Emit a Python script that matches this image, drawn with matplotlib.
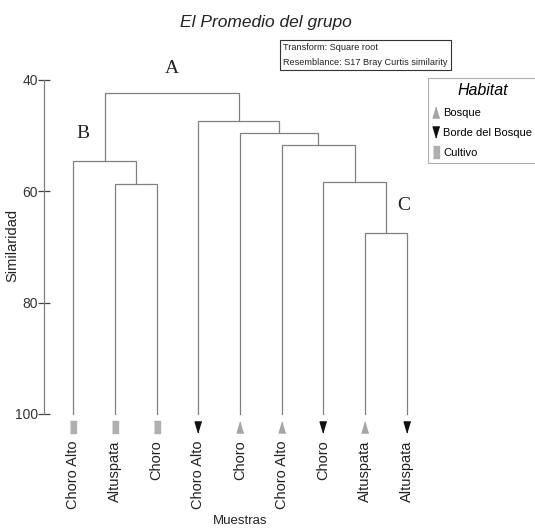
import matplotlib
matplotlib.use("Agg")
import numpy as np
import matplotlib.pyplot as plt
from matplotlib.lines import Line2D

# leaves (left to right) and their habitat
leaf_names = ["Choro Alto", "Altuspata", "Choro", "Choro Alto", "Choro",
              "Choro Alto", "Choro", "Altuspata", "Altuspata"]
leaf_habitat = ["Cultivo", "Cultivo", "Cultivo", "Borde del Bosque", "Bosque",
                "Bosque", "Borde del Bosque", "Bosque", "Borde del Bosque"]

# linkage: (child a, child b, similarity); new ids start at len(leaf_names)
merges = [
    (7, 8, 67.4),
    (6, 9, 58.3),
    (5, 10, 51.7),
    (4, 11, 49.5),
    (3, 12, 47.3),
    (1, 2, 58.7),
    (0, 14, 54.6),
    (15, 13, 42.4),
]

# group letters: (label, node id, x shift, y shift)
group_labels = [("A", 16, 0.0, -2.9), ("B", 15, -0.52, -3.5), ("C", 9, 0.42, -3.3)]

y_ticks = [40, 60, 80, 100]
habitat_order = ["Bosque", "Borde del Bosque", "Cultivo"]

tri_up = [(0, 1), (-0.6, -1), (0.6, -1)]
tri_down = [(0, -1), (-0.6, 1), (0.6, 1)]
rect = [(-0.5, -1), (0.5, -1), (0.5, 1), (-0.5, 1)]
habitat_style = {
    "Bosque": dict(marker=tri_up, color="#a6a6a6", ms=8),
    "Borde del Bosque": dict(marker=tri_down, color="#111111", ms=8),
    "Cultivo": dict(marker=rect, color="#b0b0b0", ms=8.6),
}

arial = ["Liberation Sans", "DejaVu Sans"]
serif = ["Liberation Serif", "DejaVu Serif"]
line_col = "#808080"

fig = plt.figure(figsize=(5.35, 5.31), dpi=100)
ax = fig.add_axes([44 / 535, 1 - 414 / 531, (448.3 - 44) / 535, (414 - 80) / 531])

n = len(leaf_names)
xs = {i: i + 1.0 for i in range(n)}
hs = {i: 100.0 for i in range(n)}
for k, (a, b, h) in enumerate(merges):
    node = n + k
    ax.plot([xs[a], xs[a], xs[b], xs[b]], [hs[a], h, h, hs[b]],
            color=line_col, lw=0.9, solid_joinstyle="miter", clip_on=False)
    xs[node] = (xs[a] + xs[b]) / 2
    hs[node] = h

# habitat markers and sample names below the leaves
for i in range(n):
    st = habitat_style[leaf_habitat[i]]
    ax.plot(xs[i], 102.4, marker=st["marker"], color=st["color"], ms=st["ms"],
            ls="none", clip_on=False)
    ax.text(xs[i], 104.7, leaf_names[i], rotation=90, ha="center", va="top",
            fontsize=10.5, family=arial, color="#222222")

for lab, node, dx, dy in group_labels:
    ax.text(xs[node] + dx, hs[node] + dy, lab, ha="center", va="bottom",
            fontsize=14, family=serif, color="#222222")

ax.set_xlim(1 - (73.3 - 44) / 41.67, 10)
ax.set_ylim(100, 40)
ax.set_yticks(y_ticks)
ax.set_xticks([])
for s in ["top", "right", "bottom"]:
    ax.spines[s].set_visible(False)
ax.spines["left"].set_color(line_col)
ax.spines["left"].set_linewidth(0.9)
ax.tick_params(axis="y", direction="inout", length=9, width=0.9, color="#444444",
               labelsize=10, pad=0)
for t in ax.get_yticklabels():
    t.set_family(arial)
    t.set_color("#333333")
ax.patch.set_visible(False)

fig.text(12 / 535, 1 - 245 / 531, "Similaridad", rotation=90, ha="center",
         va="center", fontsize=10.5, family=arial, color="#222222")
fig.text(240 / 535, 1 - 521 / 531, "Muestras", ha="center", va="center",
         fontsize=9.5, family=arial, color="#222222")
fig.text(266 / 535, 1 - 22 / 531, "El Promedio del grupo", ha="center", va="center",
         fontsize=12.5, family=arial, style="italic", color="#222222")
fig.text(283 / 535, 1 - 55 / 531,
         "Transform: Square root\nResemblance: S17 Bray Curtis similarity",
         ha="left", va="center", fontsize=6.6, family=arial, linespacing=1.75,
         color="#222222",
         bbox=dict(boxstyle="square,pad=0.35", fc="white", ec="#333333", lw=0.8))

handles = [Line2D([], [], ls="none", marker=habitat_style[h]["marker"],
                  color=habitat_style[h]["color"], ms=habitat_style[h]["ms"])
           for h in habitat_order]
leg = fig.legend(handles, habitat_order,
                 loc="upper left", bbox_to_anchor=(428 / 535, 1 - 78 / 531),
                 frameon=True, fancybox=False, handlelength=0.5, handletextpad=0.4,
                 borderaxespad=0, borderpad=0.45, labelspacing=0.9,
                 prop=dict(family=arial, size=8.0), title="Habitat",
                 title_fontproperties=dict(family=arial, size=11.5, style="italic"))
leg.get_frame().set_edgecolor("#999999")
leg.get_frame().set_linewidth(0.8)

fig.savefig("out.png", dpi=100)
